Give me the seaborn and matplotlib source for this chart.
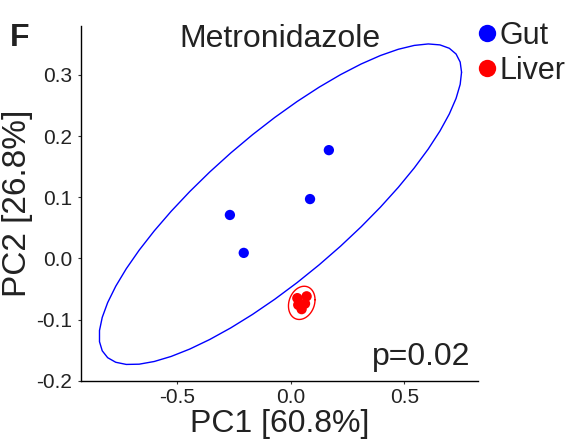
import numpy as np
import pandas as pd
import matplotlib
matplotlib.use("Agg")
import matplotlib.pyplot as plt
from matplotlib.lines import Line2D
import seaborn as sns

# ---- data ----
gut_pc1 = [-0.268, -0.207, 0.168, 0.085]
gut_pc2 = [0.071, 0.009, 0.177, 0.097]
liver_pc1 = [0.029, 0.070, 0.063, 0.048, 0.033]
liver_pc2 = [-0.065, -0.062, -0.074, -0.083, -0.076]
groups = ["Gut", "Liver"]
colors = ["#0000FF", "#FF0000"]
title = "Metronidazole"
panel = "F"
xlabel = "PC1 [60.8%]"
ylabel = "PC2 [26.8%]"
pval_text = "p=0.02"
xticks = [-0.5, 0.0, 0.5]
yticks = [-0.2, -0.1, 0.0, 0.1, 0.2, 0.3]

df = pd.DataFrame({
    "PC1": gut_pc1 + liver_pc1,
    "PC2": gut_pc2 + liver_pc2,
    "Group": ["Gut"] * len(gut_pc1) + ["Liver"] * len(liver_pc1),
})


def cov_trob(x, nu=5, maxit=25, tol=0.01):
    x = np.asarray(x, float)
    n, p = x.shape
    wt = np.ones(n)
    loc = x.mean(axis=0)
    w = np.sqrt(wt)
    X = x - loc
    for _ in range(maxit):
        w0 = w
        X = x - loc
        _, d, vt = np.linalg.svd(np.sqrt(w / w.sum())[:, None] * X, full_matrices=False)
        wX = X @ vt.T @ np.diag(1.0 / d)
        Q = (wX ** 2).sum(axis=1)
        w = (wt * (nu + p)) / (nu + Q)
        loc = (w[:, None] * x).sum(axis=0) / w.sum()
        if np.all(np.abs(w - w0) < tol):
            break
    X = x - loc
    cov = (np.sqrt(w)[:, None] * X).T @ (np.sqrt(w)[:, None] * X) / wt.sum()
    return loc, cov


def ellipse_pts(x, level=0.95, segments=51):
    n = len(x)
    center, shape = cov_trob(x)
    dfd = n - 1
    # F quantile for dfn=2 in closed form
    fq = dfd / 2.0 * ((1 - level) ** (-2.0 / dfd) - 1)
    radius = np.sqrt(2 * fq)
    R = np.linalg.cholesky(shape).T
    ang = np.linspace(0, 2 * np.pi, segments + 1)
    circ = np.column_stack([np.cos(ang), np.sin(ang)])
    return center + radius * (circ @ R)


sns.set_style("ticks")
plt.rcParams["font.family"] = ["Liberation Sans", "DejaVu Sans"]

fig = plt.figure(figsize=(5.67, 4.41), dpi=100)
W, H = 567, 441
ax = fig.add_axes([81 / W, 1 - 380.7 / H, (478 - 81) / W, (380.7 - 26) / H])

pal = dict(zip(groups, colors))
sns.scatterplot(data=df, x="PC1", y="PC2", hue="Group", palette=pal, s=55,
                edgecolor="none", legend=False, ax=ax, zorder=3)

for g in groups:
    sub = df[df["Group"] == g][["PC1", "PC2"]].values
    e = ellipse_pts(sub)
    ax.plot(e[:, 0], e[:, 1], color=pal[g], lw=1.0, zorder=2)

ax.set_xlim(-0.924, 0.825)
ax.set_ylim(-0.2, 0.38)
ax.set_xticks(xticks)
ax.set_xticklabels(["-0.5", "0.0", "0.5"])
ax.set_yticks(yticks)
ax.set_yticklabels(["-0.2", "-0.1", "0.0", "0.1", "0.2", "0.3"])
ax.tick_params(axis="both", labelsize=15, length=2.5, width=0.8, colors="#333333",
               labelcolor="#222222")
ax.tick_params(axis="x", pad=3)
ax.tick_params(axis="y", pad=4)
for s in ["top", "right"]:
    ax.spines[s].set_visible(False)
for s in ["left", "bottom"]:
    ax.spines[s].set_color("black")
    ax.spines[s].set_linewidth(1.0)

ax.set_xlabel(xlabel, fontsize=23, color="#222222", labelpad=1)
ax.set_ylabel(ylabel, fontsize=24, color="#222222", labelpad=2)

fig.text(280 / W, 1 - 47 / H, title, fontsize=23, ha="center", va="baseline", color="#222222")
fig.text(10 / W, 1 - 46 / H, panel, fontsize=23, fontweight="bold", ha="left", va="baseline",
         color="#222222")
ax.text(0.98, 0.045, pval_text, transform=ax.transAxes, fontsize=23, ha="right",
        va="baseline", color="#222222")

handles = [Line2D([], [], marker="o", linestyle="none", markersize=12.5,
                  markerfacecolor=c, markeredgecolor="none") for c in colors]
fig.legend(handles, groups, loc="upper left", bbox_to_anchor=(477 / W, 1 - 21 / H),
           frameon=False, fontsize=22, handlelength=0.65, handletextpad=0.1,
           labelspacing=0.15, borderpad=0, borderaxespad=0, labelcolor="#222222")

fig.savefig("out.png", dpi=100)
